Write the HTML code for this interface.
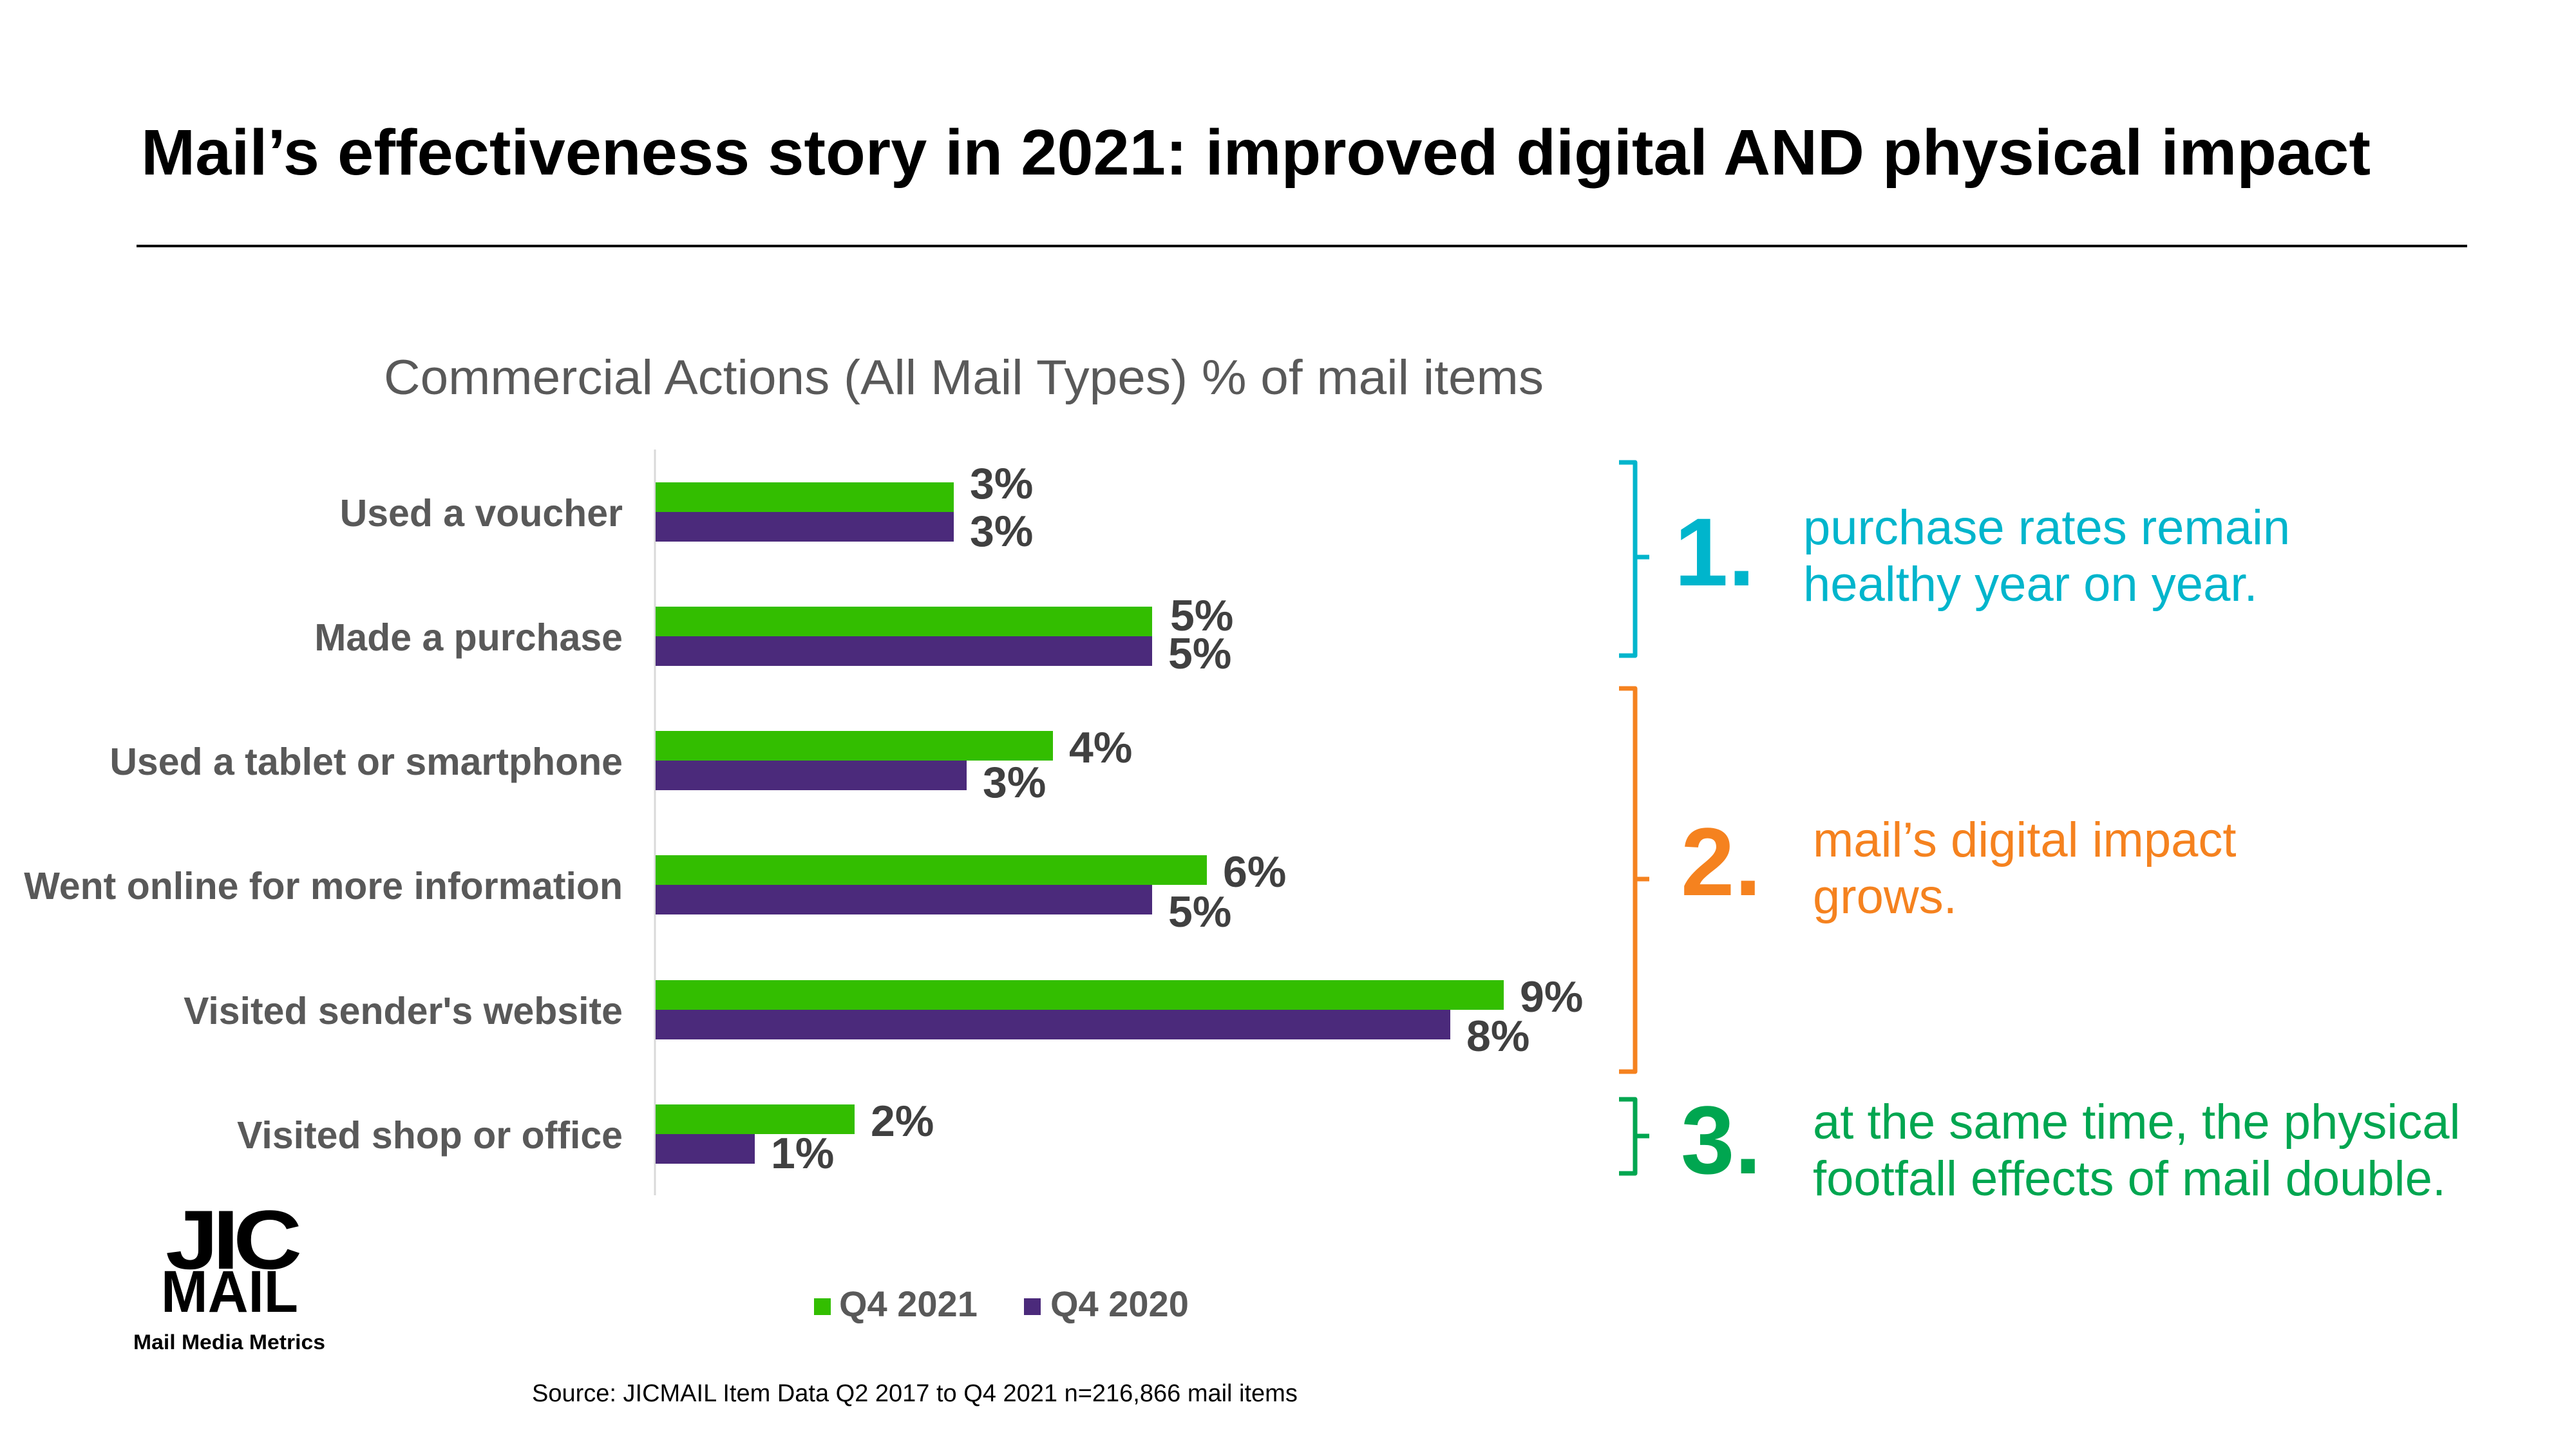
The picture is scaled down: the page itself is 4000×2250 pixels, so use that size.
<!DOCTYPE html>
<html><head><meta charset="utf-8"><style>html,body{margin:0;padding:0;background:#fff}svg{display:block}</style></head>
<body>
<svg width="4000" height="2250" viewBox="0 0 4000 2250" xmlns="http://www.w3.org/2000/svg" font-family="Liberation Sans, Arial, sans-serif">
<rect width="4000" height="2250" fill="#fff"/>
<text x="219" y="271" font-size="100" font-weight="bold" fill="#000" textLength="3462" lengthAdjust="spacingAndGlyphs">Mail’s effectiveness story in 2021: improved digital AND physical impact</text>
<rect x="212" y="380" width="3619" height="4" fill="#000"/>
<text x="596" y="612" font-size="76" fill="#595959" textLength="1801" lengthAdjust="spacingAndGlyphs">Commercial Actions (All Mail Types) % of mail items</text>
<line x1="1017" y1="698" x2="1017" y2="1856" stroke="#d9d9d9" stroke-width="3"/>
<g fill="#33BE00">
<rect x="1018" y="749" width="463" height="46"/>
<rect x="1018" y="942" width="771" height="46"/>
<rect x="1018" y="1135" width="617" height="46"/>
<rect x="1018" y="1328" width="856" height="46"/>
<rect x="1018" y="1522" width="1317" height="46"/>
<rect x="1018" y="1715" width="309" height="46"/>
</g>
<g fill="#4B2A7B">
<rect x="1018" y="795" width="463" height="46"/>
<rect x="1018" y="988" width="771" height="46"/>
<rect x="1018" y="1181" width="483" height="46"/>
<rect x="1018" y="1374" width="771" height="46"/>
<rect x="1018" y="1568" width="1234" height="46"/>
<rect x="1018" y="1761" width="154" height="46"/>
</g>
<g font-size="59" font-weight="bold" fill="#595959" text-anchor="end">
<text x="967" y="817">Used a voucher</text>
<text x="967" y="1010">Made a purchase</text>
<text x="967" y="1203">Used a tablet or smartphone</text>
<text x="967" y="1396">Went online for more information</text>
<text x="967" y="1590">Visited sender's website</text>
<text x="967" y="1783">Visited shop or office</text>
</g>
<g font-size="68" font-weight="bold" fill="#404040">
<text x="1506" y="774">3%</text><text x="1506" y="848">3%</text>
<text x="1817" y="979">5%</text><text x="1814" y="1038">5%</text>
<text x="1660" y="1184">4%</text><text x="1526" y="1238">3%</text>
<text x="1899" y="1377">6%</text><text x="1814" y="1439">5%</text>
<text x="2360" y="1571">9%</text><text x="2277" y="1632">8%</text>
<text x="1352" y="1764">2%</text><text x="1197" y="1814">1%</text>
</g>
<rect x="1264" y="2016" width="26" height="26" fill="#33BE00"/>
<text x="1303" y="2044" font-size="56" font-weight="bold" fill="#595959">Q4 2021</text>
<rect x="1590" y="2016" width="26" height="26" fill="#4B2A7B"/>
<text x="1631" y="2044" font-size="56" font-weight="bold" fill="#595959">Q4 2020</text>
<text x="826" y="2176" font-size="38" fill="#000">Source: JICMAIL Item Data Q2 2017 to Q4 2021 n=216,866 mail items</text>
<g font-weight="bold" fill="#000">
<text x="257" y="1970" font-size="130" textLength="203" lengthAdjust="spacingAndGlyphs" letter-spacing="-8">JIC</text>
<text x="250" y="2037" font-size="92" textLength="213" lengthAdjust="spacingAndGlyphs">MAIL</text>
<text x="207" y="2095" font-size="32" textLength="298" lengthAdjust="spacingAndGlyphs">Mail Media Metrics</text>
</g>
<g fill="none" stroke-width="7" stroke-linejoin="round">
<path d="M2514,718 H2539 V1018 H2514 M2539,865 H2561" stroke="#00B5CC"/>
<path d="M2514,1069 H2539 V1664 H2514 M2539,1365 H2561" stroke="#F5821F"/>
<path d="M2514,1707 H2539 V1822 H2514 M2539,1764 H2561" stroke="#00A650"/>
</g>
<g font-weight="bold" font-size="150">
<text x="2600" y="909" fill="#00B5CC">1.</text>
<text x="2610" y="1390" fill="#F5821F">2.</text>
<text x="2610" y="1822" fill="#00A650">3.</text>
</g>
<g font-size="76">
<text x="2800" y="845" fill="#00B5CC">purchase rates remain</text>
<text x="2800" y="933" fill="#00B5CC">healthy year on year.</text>
<text x="2815" y="1330" fill="#F5821F">mail’s digital impact</text>
<text x="2815" y="1418" fill="#F5821F">grows.</text>
<text x="2815" y="1768" fill="#00A650">at the same time, the physical</text>
<text x="2815" y="1856" fill="#00A650">footfall effects of mail double.</text>
</g>
</svg>
</body></html>
